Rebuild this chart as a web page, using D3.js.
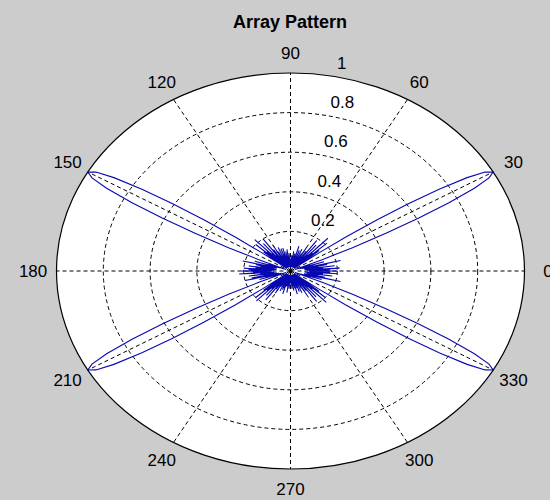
<!DOCTYPE html>
<html>
<head>
<meta charset="utf-8">
<script src="https://cdnjs.cloudflare.com/ajax/libs/d3/7.8.5/d3.min.js"></script>
<style>
  html, body { margin: 0; padding: 0; background: #cccccc; }
  svg { display: block; }
  text { font-family: "Liberation Sans", Arial, sans-serif; fill: #000; }
</style>
</head>
<body>
<div class="visualization"></div>
<script>
// gain, one value per degree, 0..359
var gainQ1 = [
  0.20,0.08,0.17,0.07,0.21,0.09,0.14,0.06,0.19,0.08,
  0.12,0.06,0.16,0.07,0.22,0.05,0.10,0.04,0.15,0.05,
  0.09,0.02,0.05,0.15,0.29,0.45,0.61,0.76,0.89,0.97,
  1.00,0.97,0.89,0.76,0.61,0.45,0.29,0.15,0.05,0.02,
  0.16,0.04,0.21,0.03,0.13,0.05,0.23,0.02,0.11,0.04,
  0.17,0.03,0.09,0.05,0.19,0.02,0.12,0.04,0.08,0.03,
  0.14,0.02,0.10,0.05,0.07,0.03,0.12,0.02,0.06,0.04,
  0.11,0.03,0.08,0.02,0.13,0.04,0.06,0.02,0.09,0.03,
  0.07,0.02,0.10,0.04,0.05,0.02,0.08,0.03,0.06,0.02
];
var gainQ2 = [
  0.05,0.03,0.07,0.02,0.09,0.03,0.06,0.02,0.11,0.03,
  0.06,0.02,0.10,0.04,0.07,0.02,0.12,0.03,0.09,0.02,
  0.12,0.04,0.07,0.03,0.13,0.02,0.08,0.04,0.11,0.03,
  0.15,0.02,0.09,0.05,0.13,0.03,0.20,0.04,0.10,0.02,
  0.18,0.05,0.12,0.03,0.22,0.04,0.14,0.02,0.20,0.05,
  0.15,0.02,0.05,0.15,0.29,0.45,0.61,0.76,0.89,0.97,
  1.00,0.97,0.89,0.76,0.61,0.45,0.29,0.15,0.05,0.02,
  0.10,0.05,0.16,0.06,0.11,0.07,0.21,0.06,0.15,0.08,
  0.13,0.07,0.18,0.06,0.15,0.08,0.20,0.07,0.18,0.09
];
var gainQ3 = [
  0.21,0.08,0.16,0.09,0.22,0.07,0.13,0.08,0.18,0.06,
  0.11,0.07,0.17,0.05,0.20,0.06,0.11,0.04,0.14,0.05,
  0.08,0.02,0.05,0.15,0.29,0.45,0.61,0.76,0.89,0.97,
  1.00,0.97,0.89,0.76,0.61,0.45,0.29,0.15,0.05,0.02,
  0.15,0.05,0.20,0.02,0.14,0.04,0.21,0.03,0.12,0.05,
  0.16,0.02,0.10,0.04,0.18,0.03,0.11,0.05,0.09,0.02,
  0.13,0.03,0.09,0.04,0.08,0.02,0.11,0.03,0.07,0.05,
  0.10,0.02,0.09,0.03,0.12,0.04,0.07,0.02,0.08,0.04,
  0.06,0.02,0.11,0.03,0.06,0.02,0.09,0.04,0.05,0.02
];
var gainQ4 = [
  0.06,0.02,0.07,0.03,0.09,0.02,0.05,0.04,0.10,0.02,
  0.07,0.03,0.09,0.02,0.12,0.04,0.06,0.02,0.09,0.03,
  0.11,0.04,0.06,0.02,0.12,0.03,0.08,0.05,0.10,0.02,
  0.14,0.03,0.08,0.04,0.12,0.02,0.19,0.05,0.09,0.03,
  0.17,0.04,0.11,0.02,0.22,0.05,0.13,0.03,0.20,0.04,
  0.16,0.02,0.05,0.15,0.29,0.45,0.61,0.76,0.89,0.97,
  1.00,0.97,0.89,0.76,0.61,0.45,0.29,0.15,0.05,0.02,
  0.09,0.05,0.14,0.06,0.10,0.07,0.22,0.06,0.15,0.08,
  0.12,0.07,0.18,0.08,0.14,0.06,0.20,0.09,0.17,0.08
];
var ringTicks = [0.2, 0.4, 0.6, 0.8];
var ringLabels = ['0.2', '0.4', '0.6', '0.8', '1'];
var spokeAngles = [0, 30, 60, 90, 120, 150, 180, 210, 240, 270, 300, 330];
var titleText = 'Array Pattern';

(function(){

  var width = 550,
    height = 500,
    cx = 290.5,
    cy = 271,
    rx = 234,
    ry = 198;

  var gain = gainQ1.concat(gainQ2, gainQ3, gainQ4);
  var rad = Math.PI / 180;

  var x = d3.scaleLinear().domain([-1, 1]).range([cx - rx, cx + rx]);
  var y = d3.scaleLinear().domain([-1, 1]).range([cy + ry, cy - ry]);

  var svg = d3.select('.visualization')
    .append('svg')
    .attr('width', width)
    .attr('height', height);

  svg.append('rect')
    .attr('width', width)
    .attr('height', height)
    .attr('fill', '#cccccc');

  // white disc of the axes
  svg.append('ellipse')
    .attr('cx', x(0)).attr('cy', y(0))
    .attr('rx', x(1) - x(0)).attr('ry', y(0) - y(1))
    .attr('fill', '#fff');

  var grid = svg.append('g')
    .attr('stroke', '#000')
    .attr('fill', 'none')
    .attr('stroke-width', 1);

  grid.selectAll('.ring')
    .data(ringTicks)
    .enter().append('ellipse')
    .attr('class', 'ring')
    .attr('cx', x(0)).attr('cy', y(0))
    .attr('rx', function(d){ return x(d) - x(0); })
    .attr('ry', function(d){ return y(0) - y(d); })
    .attr('stroke-dasharray', '4,3');

  grid.selectAll('.spoke')
    .data(spokeAngles)
    .enter().append('line')
    .attr('class', 'spoke')
    .attr('x1', x(0)).attr('y1', y(0))
    .attr('x2', function(d){ return x(Math.cos(d * rad)); })
    .attr('y2', function(d){ return y(Math.sin(d * rad)); })
    .attr('stroke-dasharray', '4,3');

  grid.append('ellipse')
    .attr('cx', x(0)).attr('cy', y(0))
    .attr('rx', x(1) - x(0)).attr('ry', y(0) - y(1))
    .attr('stroke-width', 1.2);

  // pattern
  var line = d3.line()
    .x(function(d, i){ return x(d * Math.cos(i * rad)); })
    .y(function(d, i){ return y(d * Math.sin(i * rad)); });

  svg.append('path')
    .datum(gain.concat([gain[0]]))
    .attr('d', line)
    .attr('fill', 'none')
    .attr('stroke', '#0808b0')
    .attr('stroke-width', 1.1);

  // angle labels
  svg.selectAll('.ang')
    .data(spokeAngles)
    .enter().append('text')
    .attr('class', 'ang')
    .attr('x', function(d){ return x(1.1 * Math.cos(d * rad)); })
    .attr('y', function(d){ return y(1.1 * Math.sin(d * rad)) + 6; })
    .attr('text-anchor', 'middle')
    .attr('font-size', 17)
    .text(function(d){ return d; });

  // radial labels
  var ringVals = ringTicks.concat([1]);
  svg.selectAll('.rlab')
    .data(ringVals)
    .enter().append('text')
    .attr('class', 'rlab')
    .attr('x', function(d){ return x(d * Math.cos(82 * rad)) + 14; })
    .attr('y', function(d){ return y(d * Math.sin(82 * rad)) - 6; })
    .attr('font-size', 17)
    .text(function(d, i){ return ringLabels[i]; });

  svg.append('text')
    .attr('x', 290)
    .attr('y', 28)
    .attr('text-anchor', 'middle')
    .attr('font-size', 18)
    .attr('font-weight', 'bold')
    .text(titleText);

}());
</script>
</body>
</html>
